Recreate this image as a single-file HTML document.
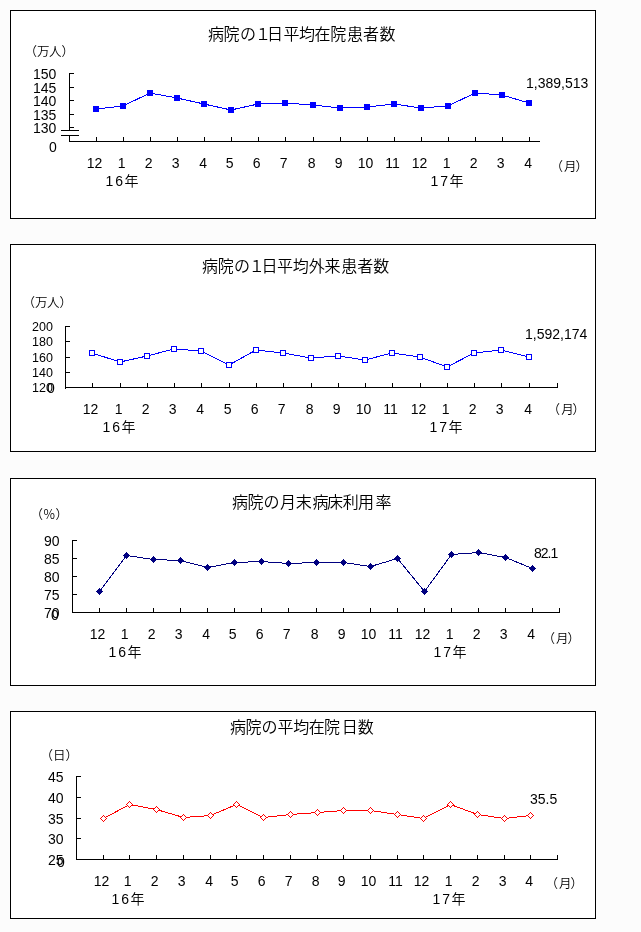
<!DOCTYPE html>
<html lang="ja"><head><meta charset="utf-8"><title>病院報告</title>
<style>
html,body{margin:0;padding:0;background:#fcfcfc;}
svg{display:block;}
</style></head>
<body>
<svg width="641" height="932" viewBox="0 0 641 932" shape-rendering="crispEdges">
<rect x="10" y="10" width="586" height="209" fill="#fff"/>
<rect x="10" y="10" width="586" height="1" fill="#000"/>
<rect x="10" y="218" width="586" height="1" fill="#000"/>
<rect x="10" y="10" width="1" height="209" fill="#000"/>
<rect x="595" y="10" width="1" height="209" fill="#000"/>
<rect x="69" y="73" width="1" height="58" fill="#000"/>
<rect x="69" y="135" width="1" height="7" fill="#000"/>
<rect x="69" y="73" width="5" height="1" fill="#000"/>
<rect x="69" y="87" width="5" height="1" fill="#000"/>
<rect x="69" y="100" width="5" height="1" fill="#000"/>
<rect x="69" y="114" width="5" height="1" fill="#000"/>
<rect x="69" y="127" width="5" height="1" fill="#000"/>
<rect x="61" y="130" width="18" height="1" fill="#000"/>
<rect x="61" y="135" width="18" height="1" fill="#000"/>
<rect x="69" y="141" width="471" height="1" fill="#000"/>
<rect x="96" y="137" width="1" height="5" fill="#000"/>
<rect x="123" y="137" width="1" height="5" fill="#000"/>
<rect x="150" y="137" width="1" height="5" fill="#000"/>
<rect x="177" y="137" width="1" height="5" fill="#000"/>
<rect x="204" y="137" width="1" height="5" fill="#000"/>
<rect x="231" y="137" width="1" height="5" fill="#000"/>
<rect x="258" y="137" width="1" height="5" fill="#000"/>
<rect x="285" y="137" width="1" height="5" fill="#000"/>
<rect x="313" y="137" width="1" height="5" fill="#000"/>
<rect x="340" y="137" width="1" height="5" fill="#000"/>
<rect x="367" y="137" width="1" height="5" fill="#000"/>
<rect x="394" y="137" width="1" height="5" fill="#000"/>
<rect x="421" y="137" width="1" height="5" fill="#000"/>
<rect x="448" y="137" width="1" height="5" fill="#000"/>
<rect x="475" y="137" width="1" height="5" fill="#000"/>
<rect x="502" y="137" width="1" height="5" fill="#000"/>
<rect x="529" y="137" width="1" height="5" fill="#000"/>
<polyline points="96,109 123,106 150,93 177,98 204,104 231,110 258,104 285,103 313,105 340,108 367,107 394,104 421,108 448,106 475,93 502,95 529,103" fill="none" stroke="#0000ff" stroke-width="1"/>
<rect x="93" y="106" width="6" height="6" fill="#0000ff"/>
<rect x="120" y="103" width="6" height="6" fill="#0000ff"/>
<rect x="147" y="90" width="6" height="6" fill="#0000ff"/>
<rect x="174" y="95" width="6" height="6" fill="#0000ff"/>
<rect x="201" y="101" width="6" height="6" fill="#0000ff"/>
<rect x="228" y="107" width="6" height="6" fill="#0000ff"/>
<rect x="255" y="101" width="6" height="6" fill="#0000ff"/>
<rect x="282" y="100" width="6" height="6" fill="#0000ff"/>
<rect x="310" y="102" width="6" height="6" fill="#0000ff"/>
<rect x="337" y="105" width="6" height="6" fill="#0000ff"/>
<rect x="364" y="104" width="6" height="6" fill="#0000ff"/>
<rect x="391" y="101" width="6" height="6" fill="#0000ff"/>
<rect x="418" y="105" width="6" height="6" fill="#0000ff"/>
<rect x="445" y="103" width="6" height="6" fill="#0000ff"/>
<rect x="472" y="90" width="6" height="6" fill="#0000ff"/>
<rect x="499" y="92" width="6" height="6" fill="#0000ff"/>
<rect x="526" y="100" width="6" height="6" fill="#0000ff"/>
<rect x="10" y="244" width="586" height="208" fill="#fff"/>
<rect x="10" y="244" width="586" height="1" fill="#000"/>
<rect x="10" y="451" width="586" height="1" fill="#000"/>
<rect x="10" y="244" width="1" height="208" fill="#000"/>
<rect x="595" y="244" width="1" height="208" fill="#000"/>
<rect x="65" y="326" width="1" height="63" fill="#000"/>
<rect x="65" y="326" width="5" height="1" fill="#000"/>
<rect x="65" y="341" width="5" height="1" fill="#000"/>
<rect x="65" y="357" width="5" height="1" fill="#000"/>
<rect x="65" y="372" width="5" height="1" fill="#000"/>
<rect x="65" y="387" width="493" height="1" fill="#000"/>
<rect x="92" y="383" width="1" height="5" fill="#000"/>
<rect x="120" y="383" width="1" height="5" fill="#000"/>
<rect x="147" y="383" width="1" height="5" fill="#000"/>
<rect x="174" y="383" width="1" height="5" fill="#000"/>
<rect x="201" y="383" width="1" height="5" fill="#000"/>
<rect x="229" y="383" width="1" height="5" fill="#000"/>
<rect x="256" y="383" width="1" height="5" fill="#000"/>
<rect x="283" y="383" width="1" height="5" fill="#000"/>
<rect x="311" y="383" width="1" height="5" fill="#000"/>
<rect x="338" y="383" width="1" height="5" fill="#000"/>
<rect x="365" y="383" width="1" height="5" fill="#000"/>
<rect x="392" y="383" width="1" height="5" fill="#000"/>
<rect x="420" y="383" width="1" height="5" fill="#000"/>
<rect x="447" y="383" width="1" height="5" fill="#000"/>
<rect x="474" y="383" width="1" height="5" fill="#000"/>
<rect x="501" y="383" width="1" height="5" fill="#000"/>
<rect x="529" y="383" width="1" height="5" fill="#000"/>
<rect x="557" y="383" width="1" height="5" fill="#000"/>
<polyline points="92,353 120,362 147,356 174,349 201,351 229,365 256,350 283,353 311,358 338,356 365,360 392,353 420,357 447,367 474,353 501,350 529,357" fill="none" stroke="#0000ff" stroke-width="1"/>
<rect x="89.5" y="350.5" width="5" height="5" fill="#fff" stroke="#0000ff" stroke-width="1"/>
<rect x="117.5" y="359.5" width="5" height="5" fill="#fff" stroke="#0000ff" stroke-width="1"/>
<rect x="144.5" y="353.5" width="5" height="5" fill="#fff" stroke="#0000ff" stroke-width="1"/>
<rect x="171.5" y="346.5" width="5" height="5" fill="#fff" stroke="#0000ff" stroke-width="1"/>
<rect x="198.5" y="348.5" width="5" height="5" fill="#fff" stroke="#0000ff" stroke-width="1"/>
<rect x="226.5" y="362.5" width="5" height="5" fill="#fff" stroke="#0000ff" stroke-width="1"/>
<rect x="253.5" y="347.5" width="5" height="5" fill="#fff" stroke="#0000ff" stroke-width="1"/>
<rect x="280.5" y="350.5" width="5" height="5" fill="#fff" stroke="#0000ff" stroke-width="1"/>
<rect x="308.5" y="355.5" width="5" height="5" fill="#fff" stroke="#0000ff" stroke-width="1"/>
<rect x="335.5" y="353.5" width="5" height="5" fill="#fff" stroke="#0000ff" stroke-width="1"/>
<rect x="362.5" y="357.5" width="5" height="5" fill="#fff" stroke="#0000ff" stroke-width="1"/>
<rect x="389.5" y="350.5" width="5" height="5" fill="#fff" stroke="#0000ff" stroke-width="1"/>
<rect x="417.5" y="354.5" width="5" height="5" fill="#fff" stroke="#0000ff" stroke-width="1"/>
<rect x="444.5" y="364.5" width="5" height="5" fill="#fff" stroke="#0000ff" stroke-width="1"/>
<rect x="471.5" y="350.5" width="5" height="5" fill="#fff" stroke="#0000ff" stroke-width="1"/>
<rect x="498.5" y="347.5" width="5" height="5" fill="#fff" stroke="#0000ff" stroke-width="1"/>
<rect x="526.5" y="354.5" width="5" height="5" fill="#fff" stroke="#0000ff" stroke-width="1"/>
<rect x="10" y="478" width="586" height="208" fill="#fff"/>
<rect x="10" y="478" width="586" height="1" fill="#000"/>
<rect x="10" y="685" width="586" height="1" fill="#000"/>
<rect x="10" y="478" width="1" height="208" fill="#000"/>
<rect x="595" y="478" width="1" height="208" fill="#000"/>
<rect x="72" y="540" width="1" height="73" fill="#000"/>
<rect x="72" y="540" width="5" height="1" fill="#000"/>
<rect x="72" y="558" width="5" height="1" fill="#000"/>
<rect x="72" y="576" width="5" height="1" fill="#000"/>
<rect x="72" y="594" width="5" height="1" fill="#000"/>
<rect x="72" y="612" width="488" height="1" fill="#000"/>
<rect x="99" y="608" width="1" height="5" fill="#000"/>
<rect x="126" y="608" width="1" height="5" fill="#000"/>
<rect x="153" y="608" width="1" height="5" fill="#000"/>
<rect x="180" y="608" width="1" height="5" fill="#000"/>
<rect x="207" y="608" width="1" height="5" fill="#000"/>
<rect x="234" y="608" width="1" height="5" fill="#000"/>
<rect x="261" y="608" width="1" height="5" fill="#000"/>
<rect x="288" y="608" width="1" height="5" fill="#000"/>
<rect x="316" y="608" width="1" height="5" fill="#000"/>
<rect x="343" y="608" width="1" height="5" fill="#000"/>
<rect x="370" y="608" width="1" height="5" fill="#000"/>
<rect x="397" y="608" width="1" height="5" fill="#000"/>
<rect x="424" y="608" width="1" height="5" fill="#000"/>
<rect x="451" y="608" width="1" height="5" fill="#000"/>
<rect x="478" y="608" width="1" height="5" fill="#000"/>
<rect x="505" y="608" width="1" height="5" fill="#000"/>
<rect x="532" y="608" width="1" height="5" fill="#000"/>
<rect x="559" y="608" width="1" height="5" fill="#000"/>
<polyline points="99.5,591.5 126.5,555.5 153.5,559.5 180.5,560.5 207.5,567.5 234.5,562.5 261.5,561.5 288.5,563.5 316.5,562.5 343.5,562.5 370.5,566.5 397.5,558.5 424.5,591.5 451.5,554.5 478.5,552.5 505.5,557.5 532.5,568.5" fill="none" stroke="#000080" stroke-width="1"/>
<polygon points="99.5,587.7 103.3,591.5 99.5,595.3 95.7,591.5" fill="#000080"/>
<polygon points="126.5,551.7 130.3,555.5 126.5,559.3 122.7,555.5" fill="#000080"/>
<polygon points="153.5,555.7 157.3,559.5 153.5,563.3 149.7,559.5" fill="#000080"/>
<polygon points="180.5,556.7 184.3,560.5 180.5,564.3 176.7,560.5" fill="#000080"/>
<polygon points="207.5,563.7 211.3,567.5 207.5,571.3 203.7,567.5" fill="#000080"/>
<polygon points="234.5,558.7 238.3,562.5 234.5,566.3 230.7,562.5" fill="#000080"/>
<polygon points="261.5,557.7 265.3,561.5 261.5,565.3 257.7,561.5" fill="#000080"/>
<polygon points="288.5,559.7 292.3,563.5 288.5,567.3 284.7,563.5" fill="#000080"/>
<polygon points="316.5,558.7 320.3,562.5 316.5,566.3 312.7,562.5" fill="#000080"/>
<polygon points="343.5,558.7 347.3,562.5 343.5,566.3 339.7,562.5" fill="#000080"/>
<polygon points="370.5,562.7 374.3,566.5 370.5,570.3 366.7,566.5" fill="#000080"/>
<polygon points="397.5,554.7 401.3,558.5 397.5,562.3 393.7,558.5" fill="#000080"/>
<polygon points="424.5,587.7 428.3,591.5 424.5,595.3 420.7,591.5" fill="#000080"/>
<polygon points="451.5,550.7 455.3,554.5 451.5,558.3 447.7,554.5" fill="#000080"/>
<polygon points="478.5,548.7 482.3,552.5 478.5,556.3 474.7,552.5" fill="#000080"/>
<polygon points="505.5,553.7 509.3,557.5 505.5,561.3 501.7,557.5" fill="#000080"/>
<polygon points="532.5,564.7 536.3,568.5 532.5,572.3 528.7,568.5" fill="#000080"/>
<rect x="10" y="711" width="586" height="208" fill="#fff"/>
<rect x="10" y="711" width="586" height="1" fill="#000"/>
<rect x="10" y="918" width="586" height="1" fill="#000"/>
<rect x="10" y="711" width="1" height="208" fill="#000"/>
<rect x="595" y="711" width="1" height="208" fill="#000"/>
<rect x="76" y="776" width="1" height="84" fill="#000"/>
<rect x="76" y="776" width="5" height="1" fill="#000"/>
<rect x="76" y="797" width="5" height="1" fill="#000"/>
<rect x="76" y="818" width="5" height="1" fill="#000"/>
<rect x="76" y="838" width="5" height="1" fill="#000"/>
<rect x="76" y="859" width="482" height="1" fill="#000"/>
<rect x="103" y="855" width="1" height="5" fill="#000"/>
<rect x="129" y="855" width="1" height="5" fill="#000"/>
<rect x="156" y="855" width="1" height="5" fill="#000"/>
<rect x="183" y="855" width="1" height="5" fill="#000"/>
<rect x="210" y="855" width="1" height="5" fill="#000"/>
<rect x="236" y="855" width="1" height="5" fill="#000"/>
<rect x="263" y="855" width="1" height="5" fill="#000"/>
<rect x="290" y="855" width="1" height="5" fill="#000"/>
<rect x="317" y="855" width="1" height="5" fill="#000"/>
<rect x="343" y="855" width="1" height="5" fill="#000"/>
<rect x="370" y="855" width="1" height="5" fill="#000"/>
<rect x="397" y="855" width="1" height="5" fill="#000"/>
<rect x="423" y="855" width="1" height="5" fill="#000"/>
<rect x="450" y="855" width="1" height="5" fill="#000"/>
<rect x="477" y="855" width="1" height="5" fill="#000"/>
<rect x="504" y="855" width="1" height="5" fill="#000"/>
<rect x="530" y="855" width="1" height="5" fill="#000"/>
<rect x="557" y="855" width="1" height="5" fill="#000"/>
<polyline points="103.5,818.5 129.5,804.5 156.5,809.5 183.5,817.5 210.5,815.5 236.5,804.5 263.5,817.5 290.5,814.5 317.5,812.5 343.5,810.5 370.5,810.5 397.5,814.5 423.5,818.5 450.5,804.5 477.5,814.5 504.5,818.5 530.5,815.5" fill="none" stroke="#ff0000" stroke-width="1"/>
<polygon points="103.5,815.3 106.7,818.5 103.5,821.7 100.3,818.5" fill="#fff" stroke="#ff0000" stroke-width="1"/>
<polygon points="129.5,801.3 132.7,804.5 129.5,807.7 126.3,804.5" fill="#fff" stroke="#ff0000" stroke-width="1"/>
<polygon points="156.5,806.3 159.7,809.5 156.5,812.7 153.3,809.5" fill="#fff" stroke="#ff0000" stroke-width="1"/>
<polygon points="183.5,814.3 186.7,817.5 183.5,820.7 180.3,817.5" fill="#fff" stroke="#ff0000" stroke-width="1"/>
<polygon points="210.5,812.3 213.7,815.5 210.5,818.7 207.3,815.5" fill="#fff" stroke="#ff0000" stroke-width="1"/>
<polygon points="236.5,801.3 239.7,804.5 236.5,807.7 233.3,804.5" fill="#fff" stroke="#ff0000" stroke-width="1"/>
<polygon points="263.5,814.3 266.7,817.5 263.5,820.7 260.3,817.5" fill="#fff" stroke="#ff0000" stroke-width="1"/>
<polygon points="290.5,811.3 293.7,814.5 290.5,817.7 287.3,814.5" fill="#fff" stroke="#ff0000" stroke-width="1"/>
<polygon points="317.5,809.3 320.7,812.5 317.5,815.7 314.3,812.5" fill="#fff" stroke="#ff0000" stroke-width="1"/>
<polygon points="343.5,807.3 346.7,810.5 343.5,813.7 340.3,810.5" fill="#fff" stroke="#ff0000" stroke-width="1"/>
<polygon points="370.5,807.3 373.7,810.5 370.5,813.7 367.3,810.5" fill="#fff" stroke="#ff0000" stroke-width="1"/>
<polygon points="397.5,811.3 400.7,814.5 397.5,817.7 394.3,814.5" fill="#fff" stroke="#ff0000" stroke-width="1"/>
<polygon points="423.5,815.3 426.7,818.5 423.5,821.7 420.3,818.5" fill="#fff" stroke="#ff0000" stroke-width="1"/>
<polygon points="450.5,801.3 453.7,804.5 450.5,807.7 447.3,804.5" fill="#fff" stroke="#ff0000" stroke-width="1"/>
<polygon points="477.5,811.3 480.7,814.5 477.5,817.7 474.3,814.5" fill="#fff" stroke="#ff0000" stroke-width="1"/>
<polygon points="504.5,815.3 507.7,818.5 504.5,821.7 501.3,818.5" fill="#fff" stroke="#ff0000" stroke-width="1"/>
<polygon points="530.5,812.3 533.7,815.5 530.5,818.7 527.3,815.5" fill="#fff" stroke="#ff0000" stroke-width="1"/>
<g fill="#000">
<text x="24.50 37.00 49.00 61.50" y="56.00" style="font-size:12.5px;font-family:'Liberation Sans', 'Noto Sans CJK JP', sans-serif;font-weight:350;">（万人）</text>
<text x="105.60 115.20 124.50" y="186.00" style="font-size:14px;font-family:'Liberation Sans', 'Noto Sans CJK JP', sans-serif;font-weight:350;">16年</text>
<text x="430.60 440.20 449.50" y="186.00" style="font-size:14px;font-family:'Liberation Sans', 'Noto Sans CJK JP', sans-serif;font-weight:350;">17年</text>
<text x="550.50 564.00 575.50" y="171.00" style="font-size:12.5px;font-family:'Liberation Sans', 'Noto Sans CJK JP', sans-serif;font-weight:350;">（月）</text>
<text x="22.50 35.00 47.00 59.50" y="307.00" style="font-size:12.5px;font-family:'Liberation Sans', 'Noto Sans CJK JP', sans-serif;font-weight:350;">（万人）</text>
<text x="102.60 112.20 121.50" y="432.00" style="font-size:14px;font-family:'Liberation Sans', 'Noto Sans CJK JP', sans-serif;font-weight:350;">16年</text>
<text x="429.60 439.20 448.50" y="432.00" style="font-size:14px;font-family:'Liberation Sans', 'Noto Sans CJK JP', sans-serif;font-weight:350;">17年</text>
<text x="547.50 561.20 572.50" y="414.00" style="font-size:12.5px;font-family:'Liberation Sans', 'Noto Sans CJK JP', sans-serif;font-weight:350;">（月）</text>
<text x="30.50 43.10 55.50" y="519.00" style="font-size:12.5px;font-family:'Liberation Sans', 'Noto Sans CJK JP', sans-serif;font-weight:350;">（％）</text>
<text x="108.60 118.20 127.50" y="657.00" style="font-size:14px;font-family:'Liberation Sans', 'Noto Sans CJK JP', sans-serif;font-weight:350;">16年</text>
<text x="433.60 443.20 452.50" y="657.00" style="font-size:14px;font-family:'Liberation Sans', 'Noto Sans CJK JP', sans-serif;font-weight:350;">17年</text>
<text x="542.50 556.00 567.50" y="643.00" style="font-size:12.5px;font-family:'Liberation Sans', 'Noto Sans CJK JP', sans-serif;font-weight:350;">（月）</text>
<text x="40.50 53.00 65.50" y="760.00" style="font-size:12.5px;font-family:'Liberation Sans', 'Noto Sans CJK JP', sans-serif;font-weight:350;">（日）</text>
<text x="111.60 121.20 130.50" y="904.00" style="font-size:14px;font-family:'Liberation Sans', 'Noto Sans CJK JP', sans-serif;font-weight:350;">16年</text>
<text x="432.60 442.20 451.50" y="904.00" style="font-size:14px;font-family:'Liberation Sans', 'Noto Sans CJK JP', sans-serif;font-weight:350;">17年</text>
<text x="545.40 558.90 570.50" y="888.00" style="font-size:12.5px;font-family:'Liberation Sans', 'Noto Sans CJK JP', sans-serif;font-weight:350;">（月）</text>
<text x="208.00 223.50 240.00 255.00 267.00 283.50 299.00 314.60 330.25 347.00 363.00 379.50" y="40.00" style="font-size:16px;font-family:'Liberation Sans', 'Noto Sans CJK JP', sans-serif;font-weight:350;">病院の１日平均在院患者数</text>
<text x="202.10 217.75 234.00 248.75 261.40 277.10 292.75 308.75 324.60 341.20 357.20 373.30" y="272.00" style="font-size:16px;font-family:'Liberation Sans', 'Noto Sans CJK JP', sans-serif;font-weight:350;">病院の１日平均外来患者数</text>
<text x="232.00 247.60 263.50 280.10 295.80 312.50 327.10 342.80 358.00 375.50" y="508.00" style="font-size:16px;font-family:'Liberation Sans', 'Noto Sans CJK JP', sans-serif;font-weight:350;">病院の月末病床利用率</text>
<text x="230.00 245.60 261.60 277.50 293.30 308.70 324.10 341.80 357.80" y="733.00" style="font-size:16px;font-family:'Liberation Sans', 'Noto Sans CJK JP', sans-serif;font-weight:350;">病院の平均在院日数</text>
</g>
<g fill="#000">
<text x="33.00" y="79.00" style="font-size:14px;font-family:'Liberation Sans', sans-serif;">150</text>
<text x="33.00" y="93.00" style="font-size:14px;font-family:'Liberation Sans', sans-serif;">145</text>
<text x="33.00" y="106.00" style="font-size:14px;font-family:'Liberation Sans', sans-serif;">140</text>
<text x="33.00" y="120.00" style="font-size:14px;font-family:'Liberation Sans', sans-serif;">135</text>
<text x="33.00" y="133.00" style="font-size:14px;font-family:'Liberation Sans', sans-serif;">130</text>
<text x="49.00" y="152.00" style="font-size:14px;font-family:'Liberation Sans', sans-serif;">0</text>
<text x="86.80" y="168.00" style="font-size:14px;font-family:'Liberation Sans', sans-serif;">12</text>
<text x="117.80" y="168.00" style="font-size:14px;font-family:'Liberation Sans', sans-serif;">1</text>
<text x="144.80" y="168.00" style="font-size:14px;font-family:'Liberation Sans', sans-serif;">2</text>
<text x="171.80" y="168.00" style="font-size:14px;font-family:'Liberation Sans', sans-serif;">3</text>
<text x="199.30" y="168.00" style="font-size:14px;font-family:'Liberation Sans', sans-serif;">4</text>
<text x="225.80" y="168.00" style="font-size:14px;font-family:'Liberation Sans', sans-serif;">5</text>
<text x="252.80" y="168.00" style="font-size:14px;font-family:'Liberation Sans', sans-serif;">6</text>
<text x="279.80" y="168.00" style="font-size:14px;font-family:'Liberation Sans', sans-serif;">7</text>
<text x="307.80" y="168.00" style="font-size:14px;font-family:'Liberation Sans', sans-serif;">8</text>
<text x="334.80" y="168.00" style="font-size:14px;font-family:'Liberation Sans', sans-serif;">9</text>
<text x="357.80" y="168.00" style="font-size:14px;font-family:'Liberation Sans', sans-serif;">10</text>
<text x="385.30" y="168.00" style="font-size:14px;font-family:'Liberation Sans', sans-serif;">11</text>
<text x="411.80" y="168.00" style="font-size:14px;font-family:'Liberation Sans', sans-serif;">12</text>
<text x="442.80" y="168.00" style="font-size:14px;font-family:'Liberation Sans', sans-serif;">1</text>
<text x="469.80" y="168.00" style="font-size:14px;font-family:'Liberation Sans', sans-serif;">2</text>
<text x="496.80" y="168.00" style="font-size:14px;font-family:'Liberation Sans', sans-serif;">3</text>
<text x="524.30" y="168.00" style="font-size:14px;font-family:'Liberation Sans', sans-serif;">4</text>
<text x="526.00" y="88.00" style="font-size:14px;font-family:'Liberation Sans', sans-serif;">1,389,513</text>
<text x="32.00" y="331.00" style="font-size:12.5px;font-family:'Liberation Sans', sans-serif;">200</text>
<text x="32.00" y="346.00" style="font-size:12.5px;font-family:'Liberation Sans', sans-serif;">180</text>
<text x="32.00" y="362.00" style="font-size:12.5px;font-family:'Liberation Sans', sans-serif;">160</text>
<text x="32.00" y="377.00" style="font-size:12.5px;font-family:'Liberation Sans', sans-serif;">140</text>
<text x="32.00" y="392.00" style="font-size:12.5px;font-family:'Liberation Sans', sans-serif;">120</text>
<text x="47.00" y="393.00" style="font-size:14px;font-family:'Liberation Sans', sans-serif;">0</text>
<text x="82.80" y="414.00" style="font-size:14px;font-family:'Liberation Sans', sans-serif;">12</text>
<text x="114.80" y="414.00" style="font-size:14px;font-family:'Liberation Sans', sans-serif;">1</text>
<text x="141.80" y="414.00" style="font-size:14px;font-family:'Liberation Sans', sans-serif;">2</text>
<text x="168.80" y="414.00" style="font-size:14px;font-family:'Liberation Sans', sans-serif;">3</text>
<text x="196.30" y="414.00" style="font-size:14px;font-family:'Liberation Sans', sans-serif;">4</text>
<text x="223.80" y="414.00" style="font-size:14px;font-family:'Liberation Sans', sans-serif;">5</text>
<text x="250.80" y="414.00" style="font-size:14px;font-family:'Liberation Sans', sans-serif;">6</text>
<text x="277.80" y="414.00" style="font-size:14px;font-family:'Liberation Sans', sans-serif;">7</text>
<text x="305.80" y="414.00" style="font-size:14px;font-family:'Liberation Sans', sans-serif;">8</text>
<text x="332.80" y="414.00" style="font-size:14px;font-family:'Liberation Sans', sans-serif;">9</text>
<text x="355.80" y="414.00" style="font-size:14px;font-family:'Liberation Sans', sans-serif;">10</text>
<text x="383.30" y="414.00" style="font-size:14px;font-family:'Liberation Sans', sans-serif;">11</text>
<text x="410.80" y="414.00" style="font-size:14px;font-family:'Liberation Sans', sans-serif;">12</text>
<text x="441.80" y="414.00" style="font-size:14px;font-family:'Liberation Sans', sans-serif;">1</text>
<text x="468.80" y="414.00" style="font-size:14px;font-family:'Liberation Sans', sans-serif;">2</text>
<text x="495.80" y="414.00" style="font-size:14px;font-family:'Liberation Sans', sans-serif;">3</text>
<text x="524.30" y="414.00" style="font-size:14px;font-family:'Liberation Sans', sans-serif;">4</text>
<text x="525.00" y="339.00" style="font-size:14px;font-family:'Liberation Sans', sans-serif;">1,592,174</text>
<text x="44.00" y="546.00" style="font-size:14px;font-family:'Liberation Sans', sans-serif;">90</text>
<text x="44.00" y="564.00" style="font-size:14px;font-family:'Liberation Sans', sans-serif;">85</text>
<text x="44.00" y="582.00" style="font-size:14px;font-family:'Liberation Sans', sans-serif;">80</text>
<text x="44.00" y="600.00" style="font-size:14px;font-family:'Liberation Sans', sans-serif;">75</text>
<text x="44.00" y="618.00" style="font-size:14px;font-family:'Liberation Sans', sans-serif;">70</text>
<text x="51.00" y="620.00" style="font-size:14px;font-family:'Liberation Sans', sans-serif;">0</text>
<text x="89.80" y="639.00" style="font-size:14px;font-family:'Liberation Sans', sans-serif;">12</text>
<text x="120.80" y="639.00" style="font-size:14px;font-family:'Liberation Sans', sans-serif;">1</text>
<text x="147.80" y="639.00" style="font-size:14px;font-family:'Liberation Sans', sans-serif;">2</text>
<text x="174.80" y="639.00" style="font-size:14px;font-family:'Liberation Sans', sans-serif;">3</text>
<text x="202.30" y="639.00" style="font-size:14px;font-family:'Liberation Sans', sans-serif;">4</text>
<text x="228.80" y="639.00" style="font-size:14px;font-family:'Liberation Sans', sans-serif;">5</text>
<text x="255.80" y="639.00" style="font-size:14px;font-family:'Liberation Sans', sans-serif;">6</text>
<text x="282.80" y="639.00" style="font-size:14px;font-family:'Liberation Sans', sans-serif;">7</text>
<text x="310.80" y="639.00" style="font-size:14px;font-family:'Liberation Sans', sans-serif;">8</text>
<text x="337.80" y="639.00" style="font-size:14px;font-family:'Liberation Sans', sans-serif;">9</text>
<text x="360.80" y="639.00" style="font-size:14px;font-family:'Liberation Sans', sans-serif;">10</text>
<text x="388.30" y="639.00" style="font-size:14px;font-family:'Liberation Sans', sans-serif;">11</text>
<text x="414.80" y="639.00" style="font-size:14px;font-family:'Liberation Sans', sans-serif;">12</text>
<text x="445.80" y="639.00" style="font-size:14px;font-family:'Liberation Sans', sans-serif;">1</text>
<text x="472.80" y="639.00" style="font-size:14px;font-family:'Liberation Sans', sans-serif;">2</text>
<text x="499.80" y="639.00" style="font-size:14px;font-family:'Liberation Sans', sans-serif;">3</text>
<text x="527.30" y="639.00" style="font-size:14px;font-family:'Liberation Sans', sans-serif;">4</text>
<text x="534.00" y="558.00" style="font-size:14px;font-family:'Liberation Sans', sans-serif;letter-spacing:-1px;">82.1</text>
<text x="48.00" y="782.00" style="font-size:14px;font-family:'Liberation Sans', sans-serif;">45</text>
<text x="48.00" y="803.00" style="font-size:14px;font-family:'Liberation Sans', sans-serif;">40</text>
<text x="48.00" y="824.00" style="font-size:14px;font-family:'Liberation Sans', sans-serif;">35</text>
<text x="48.00" y="844.00" style="font-size:14px;font-family:'Liberation Sans', sans-serif;">30</text>
<text x="48.00" y="865.00" style="font-size:14px;font-family:'Liberation Sans', sans-serif;">25</text>
<text x="57.00" y="867.00" style="font-size:14px;font-family:'Liberation Sans', sans-serif;">0</text>
<text x="93.80" y="886.00" style="font-size:14px;font-family:'Liberation Sans', sans-serif;">12</text>
<text x="123.80" y="886.00" style="font-size:14px;font-family:'Liberation Sans', sans-serif;">1</text>
<text x="150.80" y="886.00" style="font-size:14px;font-family:'Liberation Sans', sans-serif;">2</text>
<text x="177.80" y="886.00" style="font-size:14px;font-family:'Liberation Sans', sans-serif;">3</text>
<text x="205.30" y="886.00" style="font-size:14px;font-family:'Liberation Sans', sans-serif;">4</text>
<text x="230.80" y="886.00" style="font-size:14px;font-family:'Liberation Sans', sans-serif;">5</text>
<text x="257.80" y="886.00" style="font-size:14px;font-family:'Liberation Sans', sans-serif;">6</text>
<text x="284.80" y="886.00" style="font-size:14px;font-family:'Liberation Sans', sans-serif;">7</text>
<text x="311.80" y="886.00" style="font-size:14px;font-family:'Liberation Sans', sans-serif;">8</text>
<text x="337.80" y="886.00" style="font-size:14px;font-family:'Liberation Sans', sans-serif;">9</text>
<text x="360.80" y="886.00" style="font-size:14px;font-family:'Liberation Sans', sans-serif;">10</text>
<text x="388.30" y="886.00" style="font-size:14px;font-family:'Liberation Sans', sans-serif;">11</text>
<text x="413.80" y="886.00" style="font-size:14px;font-family:'Liberation Sans', sans-serif;">12</text>
<text x="444.80" y="886.00" style="font-size:14px;font-family:'Liberation Sans', sans-serif;">1</text>
<text x="471.80" y="886.00" style="font-size:14px;font-family:'Liberation Sans', sans-serif;">2</text>
<text x="498.80" y="886.00" style="font-size:14px;font-family:'Liberation Sans', sans-serif;">3</text>
<text x="525.30" y="886.00" style="font-size:14px;font-family:'Liberation Sans', sans-serif;">4</text>
<text x="530.00" y="804.00" style="font-size:14px;font-family:'Liberation Sans', sans-serif;">35.5</text>
</g>
</svg>
</body></html>
